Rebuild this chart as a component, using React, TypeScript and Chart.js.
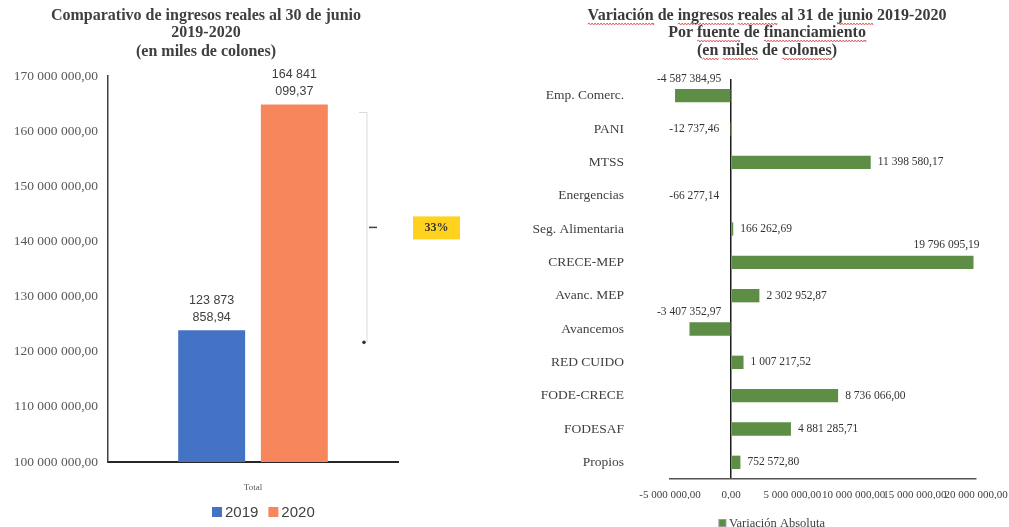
import React, { useEffect, useRef } from 'react';
import { Chart, registerables } from 'chart.js';

Chart.register(...registerables);

// ---------- Data ----------
const compTitle = ['Comparativo de ingresos reales al 30 de junio', '2019-2020', '(en miles de colones)'];
const compCategories = ['Total'];
const compSeries = ['2019', '2020'];
const compValues = [123873858.94, 164841099.37];
const compColors = ['#4472C4', '#F8865C'];
const compAxisMin = 100000000;
const compAxisMax = 170000000;
const compAxisStep = 10000000;

const srcTitle = ['Variación de ingresos reales al 31 de junio 2019-2020', 'Por fuente de financiamiento', '(en miles de colones)'];
const srcUnderlined = ['Variación', 'ingresos', 'reales', 'junio', 'fuente', 'financiamiento', 'en', 'miles', 'colones'];
const srcCategories = ['Emp. Comerc.', 'PANI', 'MTSS', 'Energencias', 'Seg. Alimentaria', 'CRECE-MEP', 'Avanc. MEP', 'Avancemos', 'RED CUIDO', 'FODE-CRECE', 'FODESAF', 'Propios'];
const srcValues = [-4587384.95, -12737.46, 11398580.17, -66277.14, 166262.69, 19796095.19, 2302952.87, -3407352.97, 1007217.52, 8736066.0, 4881285.71, 752572.8];
const srcSeries = 'Variación Absoluta';
const srcColor = '#5E8E45';
const srcAxisMin = -5000000;
const srcAxisMax = 20000000;
const srcAxisStep = 5000000;

// ---------- Helpers ----------
const SERIF = '"Liberation Serif", "Times New Roman", serif';
const SANS = '"Liberation Sans", Arial, sans-serif';

function fmt(v: number): string {
  const neg = v < 0;
  const [i, d] = Math.abs(v).toFixed(2).split('.');
  const ip = i.replace(/\B(?=(\d{3})+(?!\d))/g, ' ');
  return (neg ? '-' : '') + ip + ',' + d;
}

function wavy(ctx: CanvasRenderingContext2D, x1: number, x2: number, y: number) {
  ctx.save();
  ctx.strokeStyle = '#D9534F';
  ctx.lineWidth = 0.9;
  ctx.beginPath();
  let up = true;
  ctx.moveTo(x1, y);
  for (let x = x1; x < x2; x += 1.5) {
    ctx.lineTo(Math.min(x + 1.5, x2), y + (up ? -1 : 1));
    up = !up;
  }
  ctx.stroke();
  ctx.restore();
}

// ---------- Left chart ----------
function ComparisonChart() {
  const ref = useRef<HTMLCanvasElement>(null);
  useEffect(() => {
    if (!ref.current) return;
    const pct = Math.round((compValues[1] / compValues[0] - 1) * 100) + '%';
    const decor = {
      id: 'compDecor',
      afterDraw(chart: any) {
        const ctx: CanvasRenderingContext2D = chart.ctx;
        const area = chart.chartArea;
        ctx.save();
        // title
        ctx.fillStyle = '#404040';
        ctx.font = `bold 16px ${SERIF}`;
        ctx.textAlign = 'center';
        ctx.textBaseline = 'middle';
        const tys = [16, 33, 52];
        compTitle.forEach((t, i) => ctx.fillText(t, 206, tys[i]));
        // data labels
        ctx.font = `12.5px ${SANS}`;
        ctx.fillStyle = '#404040';
        compValues.forEach((v, di) => {
          const el = chart.getDatasetMeta(di).data[0];
          const s = fmt(v);
          const k = s.lastIndexOf(' ');
          const l1 = s.slice(0, k);
          const l2 = s.slice(k + 1);
          ctx.fillText(l2, el.x, el.y - 13);
          ctx.fillText(l1, el.x, el.y - 30);
        });
        // bracket annotation
        const ys = chart.scales.y;
        const yTop = ys.getPixelForValue(compValues[1]) + 8;
        const yBot = ys.getPixelForValue(compValues[0]) + 12;
        const bx = area.right - 31;
        ctx.strokeStyle = '#D9D9D9';
        ctx.lineWidth = 1;
        ctx.beginPath();
        ctx.moveTo(bx - 8, yTop);
        ctx.lineTo(bx, yTop);
        ctx.lineTo(bx, yBot);
        ctx.stroke();
        const ym = (yTop + yBot) / 2;
        ctx.strokeStyle = '#404040';
        ctx.lineWidth = 1.5;
        ctx.beginPath();
        ctx.moveTo(bx + 2, ym);
        ctx.lineTo(bx + 10, ym);
        ctx.stroke();
        ctx.fillStyle = '#333';
        ctx.beginPath();
        ctx.arc(bx - 3, yBot, 1.8, 0, Math.PI * 2);
        ctx.fill();
        // percentage box
        ctx.fillStyle = '#FFD21F';
        ctx.fillRect(bx + 46, ym - 11, 47, 23);
        ctx.fillStyle = '#333';
        ctx.font = `bold 12px ${SERIF}`;
        ctx.fillText(pct, bx + 69.5, ym + 1);
        // legend
        ctx.font = `15px ${SANS}`;
        ctx.textAlign = 'left';
        let lx = 212;
        const ly = 512;
        compSeries.forEach((name, i) => {
          ctx.fillStyle = compColors[i];
          ctx.fillRect(lx, ly - 5, 10, 10);
          ctx.fillStyle = '#404040';
          ctx.fillText(name, lx + 13, ly + 1);
          lx += 13 + ctx.measureText(name).width + 10;
        });
        ctx.restore();
      },
    };
    const chart = new Chart(ref.current, {
      type: 'bar',
      data: {
        labels: compCategories,
        datasets: compSeries.map((name, i) => ({
          label: name,
          data: [compValues[i]],
          backgroundColor: compColors[i],
          categoryPercentage: 0.57,
          barPercentage: 0.81,
        })),
      },
      options: {
        responsive: false,
        animation: false,
        events: [],
        layout: { padding: { left: 8, right: 122, top: 76, bottom: 35 } },
        plugins: { legend: { display: false }, tooltip: { enabled: false }, title: { display: false } },
        scales: {
          x: {
            grid: { display: false },
            border: { display: true, color: '#262626', width: 2 },
            ticks: { font: { family: SERIF, size: 9 }, color: '#595959', padding: 12 },
            afterFit: (s: any) => { s.height = 30; },
          },
          y: {
            min: compAxisMin,
            max: compAxisMax,
            ticks: { stepSize: compAxisStep, callback: (v: any) => fmt(Number(v)), font: { family: SERIF, size: 13.5 }, color: '#595959', padding: 2 },
            grid: { display: false },
            border: { display: true, color: '#404040', width: 1.5 },
            afterFit: (s: any) => { s.width = 100; },
          },
        },
      },
      plugins: [decor],
    } as any);
    return () => chart.destroy();
  }, []);
  return <canvas ref={ref} width={520} height={527} style={{ position: 'absolute', left: 0, top: 0 }} />;
}

// ---------- Right chart ----------
function SourceChart() {
  const ref = useRef<HTMLCanvasElement>(null);
  useEffect(() => {
    if (!ref.current) return;
    const decor = {
      id: 'srcDecor',
      afterDraw(chart: any) {
        const ctx: CanvasRenderingContext2D = chart.ctx;
        const area = chart.chartArea;
        ctx.save();
        // title with spell-check underlines
        ctx.font = `bold 16px ${SERIF}`;
        ctx.textBaseline = 'middle';
        ctx.textAlign = 'left';
        const tys = [16, 33, 51];
        const cx = 247;
        srcTitle.forEach((t, i) => {
          const w = ctx.measureText(t).width;
          const x0 = cx - w / 2;
          ctx.fillStyle = '#3A3A3A';
          ctx.fillText(t, x0, tys[i]);
          const re = /[A-Za-zÀ-ÿ]+/g;
          let m: RegExpExecArray | null;
          while ((m = re.exec(t)) !== null) {
            if (srcUnderlined.includes(m[0])) {
              const a = x0 + ctx.measureText(t.slice(0, m.index)).width;
              const b = a + ctx.measureText(m[0]).width;
              wavy(ctx, a, b, tys[i] + 8);
            }
          }
        });
        // data labels
        ctx.font = `11.5px ${SERIF}`;
        ctx.fillStyle = '#333';
        const xs = chart.scales.x;
        const zero = xs.getPixelForValue(0);
        const meta = chart.getDatasetMeta(0);
        srcValues.forEach((v, i) => {
          const el = meta.data[i];
          const s = fmt(v);
          const w = ctx.measureText(s).width;
          if (v >= 0) {
            if (el.x + 7 + w > area.right + 20) {
              ctx.textAlign = 'right';
              ctx.fillText(s, el.x + 6, el.y - 17);
            } else {
              ctx.textAlign = 'left';
              ctx.fillText(s, el.x + 7, el.y);
            }
          } else {
            ctx.textAlign = 'right';
            if (zero - el.x > 20) {
              ctx.fillText(s, zero - 10, el.y - 17);
            } else {
              ctx.fillText(s, zero - 12, el.y);
            }
          }
        });
        // legend
        ctx.textAlign = 'left';
        ctx.font = `12.5px ${SERIF}`;
        const lw = ctx.measureText(srcSeries).width;
        const lx = 252 - (lw + 10) / 2;
        const ly = 523;
        ctx.fillStyle = srcColor;
        ctx.fillRect(lx, ly - 3.5, 7, 7);
        ctx.strokeStyle = '#999';
        ctx.lineWidth = 1;
        ctx.strokeRect(lx, ly - 3.5, 7, 7);
        ctx.fillStyle = '#404040';
        ctx.fillText(srcSeries, lx + 10, ly + 1);
        ctx.restore();
      },
    };
    const chart = new Chart(ref.current, {
      type: 'bar',
      data: {
        labels: srcCategories,
        datasets: [{
          label: srcSeries,
          data: srcValues,
          backgroundColor: srcColor,
          categoryPercentage: 0.4,
          barPercentage: 1,
        }],
      },
      options: {
        indexAxis: 'y',
        responsive: false,
        animation: false,
        events: [],
        layout: { padding: { left: 4, right: 33, top: 79, bottom: 28 } },
        plugins: { legend: { display: false }, tooltip: { enabled: false }, title: { display: false } },
        scales: {
          x: {
            min: srcAxisMin,
            max: srcAxisMax,
            ticks: { stepSize: srcAxisStep, autoSkip: false, maxRotation: 0, minRotation: 0, callback: (v: any) => fmt(Number(v)), font: { family: SERIF, size: 11 }, color: '#404040', padding: 10 },
            grid: {
              display: true,
              drawTicks: false,
              color: (c: any) => (c.tick && c.tick.value === 0 ? '#1A1A1A' : 'rgba(0,0,0,0)'),
              lineWidth: 1.5,
            },
            border: { display: true, color: '#555', width: 1.5 },
            afterFit: (s: any) => { s.height = 20; s.paddingLeft = 0; s.paddingRight = 0; },
          },
          y: {
            ticks: { autoSkip: false, font: { family: SERIF, size: 13.5 }, color: '#404040', padding: 38 },
            grid: { display: false },
            border: { display: false },
            afterFit: (s: any) => { s.width = 146; s.paddingTop = 0; s.paddingBottom = 0; },
          },
        },
      },
      plugins: [decor],
    } as any);
    return () => chart.destroy();
  }, []);
  return <canvas ref={ref} width={489} height={527} style={{ position: 'absolute', left: 520, top: 0 }} />;
}

export default function App() {
  return (
    <div style={{ position: 'absolute', left: 0, top: 0, width: 1009, height: 527, background: '#fff', overflow: 'hidden' }}>
      <ComparisonChart />
      <SourceChart />
    </div>
  );
}
